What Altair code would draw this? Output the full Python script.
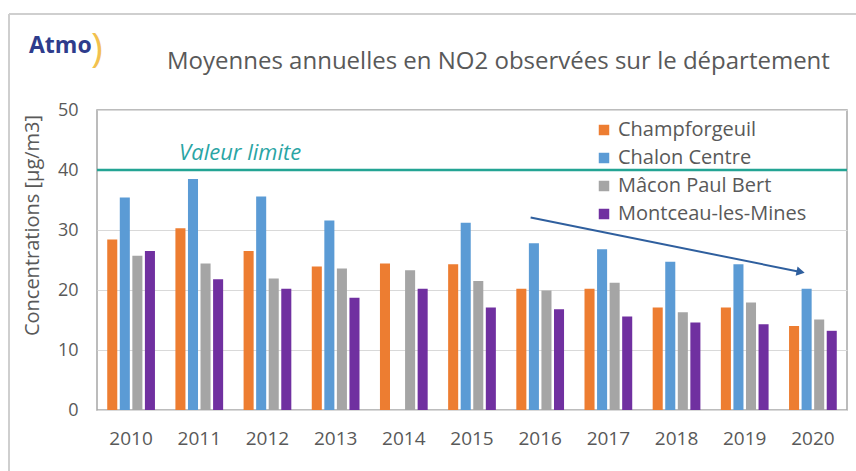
import altair as alt
import pandas as pd

years = ["2010", "2011", "2012", "2013", "2014", "2015", "2016", "2017", "2018", "2019", "2020"]
stations = ["Champforgeuil", "Chalon Centre", "Mâcon Paul Bert", "Montceau-les-Mines"]
champforgeuil = [28.4, 30.3, 26.5, 23.9, 24.4, 24.3, 20.2, 20.2, 17.1, 17.1, 14.0]
chalon = [35.4, 38.5, 35.6, 31.6, None, 31.2, 27.8, 26.8, 24.7, 24.3, 20.2]
macon = [25.7, 24.4, 21.9, 23.6, 23.3, 21.5, 19.9, 21.2, 16.3, 17.9, 15.1]
montceau = [26.5, 21.8, 20.2, 18.7, 20.2, 17.1, 16.8, 15.6, 14.6, 14.3, 13.2]
colors = ["#ED7D31", "#5B9BD5", "#A5A5A5", "#7030A0"]
title_text = "Moyennes annuelles en NO2 observées sur le département"
limit_value = 40
limit_label = "Valeur limite"
limit_label_pos = [1.6, 42.8]
arrow_x = [5.86, 9.82]
arrow_y = [32.1, 23.0]

rows = []
for s, vals in zip(stations, [champforgeuil, chalon, macon, montceau]):
    for y, v in zip(years, vals):
        if v is not None:
            rows.append({"year": y, "station": s, "value": v})
df = pd.DataFrame(rows)

yscale = alt.Scale(domain=[0, 50])
xq = alt.Scale(domain=[-0.5, 10.5])

bars = alt.Chart(df).mark_bar().encode(
    x=alt.X("year:N", sort=years, title=None,
            scale=alt.Scale(paddingInner=0.3, paddingOuter=0.15),
            axis=alt.Axis(labelAngle=0, labelFontSize=19, labelColor="#595959",
                          labelPadding=19, labelFont="Open Sans", domain=False, ticks=False, grid=False)),
    xOffset=alt.XOffset("station:N", sort=stations, scale=alt.Scale(paddingInner=0.2, paddingOuter=0)),
    y=alt.Y("value:Q", scale=yscale, title="Concentrations [µg/m3]",
            axis=alt.Axis(values=[0, 10, 20, 30, 40, 50], labelFontSize=18, labelColor="#595959",
                          labelPadding=19, labelFont="Open Sans", domain=False, ticks=False,
                          gridColor="#D9D9D9", gridWidth=1.2,
                          titleFontSize=20, titleFont="Open Sans", titleColor="#595959",
                          titleFontWeight="normal", titlePadding=15, titleY=115)),
    color=alt.Color("station:N", sort=stations,
                    scale=alt.Scale(domain=stations, range=colors),
                    legend=alt.Legend(title=None, orient="none", legendX=497, legendY=10,
                                      symbolType="square", symbolSize=110, symbolStrokeWidth=0,
                                      labelFontSize=20, labelColor="#595959", labelFont="Open Sans",
                                      labelLimit=400, rowPadding=8, labelOffset=4)),
)

limit = alt.Chart(pd.DataFrame({"v": [limit_value]})).mark_rule(
    color="#23A494", strokeWidth=2.5).encode(y=alt.Y("v:Q", scale=yscale))

label_df = pd.DataFrame({"x": [limit_label_pos[0]], "y": [limit_label_pos[1]], "t": [limit_label]})
label = alt.Chart(label_df).mark_text(
    font="Open Sans", fontSize=22, fontStyle="italic", color="#2AA5A5", align="center", baseline="middle"
).encode(x=alt.X("x:Q", scale=xq, axis=None), y=alt.Y("y:Q", scale=yscale), text="t:N")

arrow_df = pd.DataFrame({"x": [arrow_x[0]], "y": [arrow_y[0]], "x2": [arrow_x[1]], "y2": [arrow_y[1]]})
arrow = alt.Chart(arrow_df).mark_rule(color="#2F5F9E", strokeWidth=2).encode(
    x=alt.X("x:Q", scale=xq, axis=None), y=alt.Y("y:Q", scale=yscale), x2="x2:Q", y2="y2:Q")
head_df = pd.DataFrame({"x": [arrow_x[1]], "y": [arrow_y[1]]})
head = alt.Chart(head_df).mark_point(
    shape="triangle-right", filled=True, size=90, angle=11.5, color="#2F5F9E", opacity=1
).encode(x=alt.X("x:Q", scale=xq, axis=None), y=alt.Y("y:Q", scale=yscale))

title = alt.Chart(pd.DataFrame({"t": [title_text]})).mark_text(
    font="Open Sans", fontSize=24, color="#595959", align="left", baseline="middle"
).encode(x=alt.value(70), y=alt.value(-48), text="t:N")

logo = alt.Chart(pd.DataFrame({"t": ["Atmo"]})).mark_text(
    font="Open Sans", fontSize=23, fontWeight="bold", color="#2E3C8C", align="left", baseline="middle"
).encode(x=alt.value(-68), y=alt.value(-64), text="t:N")
logo_arc = alt.Chart(pd.DataFrame({"t": [")"]})).mark_text(
    font="Open Sans", fontSize=40, color="#F2C14E", align="left", baseline="middle"
).encode(x=alt.value(-6), y=alt.value(-60), text="t:N")

frame_top = alt.Chart(pd.DataFrame({"a": [0]})).mark_rule(color="#CFCFCF", strokeWidth=2).encode(
    x=alt.value(-88), x2=alt.value(760), y=alt.value(-96))
frame_left = alt.Chart(pd.DataFrame({"a": [0]})).mark_rule(color="#CFCFCF", strokeWidth=2).encode(
    x=alt.value(-88), y=alt.value(-96), y2=alt.value(362))

chart = alt.layer(bars, limit, label, arrow, head, title, logo, logo_arc, frame_top, frame_left).resolve_scale(
    x="independent"
).properties(
    width=750, height=300,
    autosize=alt.AutoSizeParams(type="none"),
    padding={"left": 97, "top": 110, "right": 9, "bottom": 61},
    background="white",
).configure_view(stroke="#A6A6A6", strokeWidth=1.5)

chart.save("out.html", embed_options={"renderer": "svg", "actions": False})
